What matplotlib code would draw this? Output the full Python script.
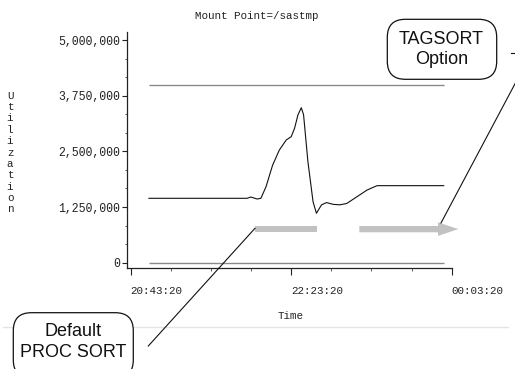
import matplotlib
matplotlib.use("Agg")
import matplotlib.pyplot as plt
import numpy as np
from matplotlib.patches import FancyBboxPatch, Polygon, Rectangle
from matplotlib.lines import Line2D
from matplotlib.ticker import FixedLocator, AutoMinorLocator, StrMethodFormatter

# ---------------- data ----------------
times = ["20:54:40", "21:55:50", "21:58:10", "22:02:08", "22:04:26", "22:07:38",
         "22:11:44", "22:15:56", "22:20:14", "22:23:20", "22:25:26", "22:27:32",
         "22:29:38", "22:31:02", "22:33:44", "22:36:56", "22:39:02", "22:42:14",
         "22:45:20", "22:49:32", "22:53:44", "22:57:56", "23:04:14", "23:10:32",
         "23:16:50", "23:58:20"]
utilization = [1446000, 1446000, 1475000, 1430000, 1446000, 1706000,
               2190000, 2530000, 2755000, 2830000, 3020000, 3320000,
               3480000, 3320000, 2270000, 1370000, 1110000, 1300000,
               1350000, 1310000, 1300000, 1330000, 1480000, 1630000,
               1730000, 1730000]
ref_levels = [4000000, 0]
x_tick_labels = ["20:43:20", "22:23:20", "00:03:20"]
y_ticks = [0, 1250000, 2500000, 3750000, 5000000]
title = "Mount Point=/sastmp"
xlabel = "Time"
ylabel = "Utilization"


def to_sec(s, ref=None):
    h, m, sec = (int(v) for v in s.split(":"))
    v = h * 3600 + m * 60 + sec
    if ref is not None and v < ref:
        v += 86400
    return v


t0 = to_sec(x_tick_labels[0])
x = np.array([to_sec(t, t0) for t in times])
xt = np.array([to_sec(t, t0) for t in x_tick_labels])

W, H = 515, 369
fig = plt.figure(figsize=(W / 100, H / 100), dpi=100)
fig.patch.set_facecolor("white")

L, R, T, B = 127.3, 451.7, 32.3, 267.7
ax = fig.add_axes([L / W, 1 - B / H, (R - L) / W, (B - T) / H])

mono = "Liberation Mono"
sans = "Liberation Sans"

ax.plot(x, utilization, color="#111111", lw=0.8, zorder=3)
for lev in ref_levels:
    ax.hlines(lev, x[0], x[-1], color="#8a8a8a", lw=1.0, zorder=2)

# limits
span = xt[-1] - xt[0]
ax.set_xlim(xt[0] - span * 0.0107, xt[-1])
ax.set_ylim(-112000, 5173000)

ax.set_xticks(xt)
ax.set_xticklabels(x_tick_labels, fontfamily=mono, fontsize=7.8, color="#222222")
for lbl in ax.get_xticklabels():
    lbl.set_horizontalalignment("left")
ax.xaxis.set_minor_locator(FixedLocator(np.arange(xt[0], xt[-1] + 1, 1500)))

ax.set_yticks(y_ticks)
ax.yaxis.set_major_formatter(StrMethodFormatter("{x:,.0f}"))
ax.yaxis.set_minor_locator(AutoMinorLocator(3))
for lbl in ax.get_yticklabels():
    lbl.set_fontfamily(mono)
    lbl.set_fontsize(8.3)
    lbl.set_color("#222222")

ax.tick_params(axis="x", which="major", length=5.2, width=0.8, pad=8, color="#222222")
ax.tick_params(axis="x", which="minor", length=2.4, width=0.6, color="#444444")
ax.tick_params(axis="y", which="major", length=3.3, width=0.8, pad=2, color="#222222")
ax.tick_params(axis="y", which="minor", length=1.7, width=0.6, color="#444444")

for s in ["top", "right"]:
    ax.spines[s].set_visible(False)
for s in ["left", "bottom"]:
    ax.spines[s].set_linewidth(0.9)
    ax.spines[s].set_color("#222222")
ax.set_facecolor("none")

# x label
ax.set_xlabel(xlabel, fontfamily=mono, fontsize=7.8, color="#222222")
ax.xaxis.set_label_coords((291 - L) / (R - L), (B - 316) / (B - T))
ax.xaxis.label.set_verticalalignment("center")

# title and stacked y label
fig.text(256.5 / W, 1 - 16 / H, title, fontfamily=mono, fontsize=7.8,
         ha="center", va="center", color="#222222")
fig.text(10 / W, 1 - 152.5 / H, "\n".join(ylabel), fontfamily=mono, fontsize=7.8,
         ha="center", va="center", linespacing=1.17, color="#222222")


def fx(px):
    return px / W


def fy(py):
    return 1 - py / H


# light separator line
fig.add_artist(Line2D([fx(3), fx(508)], [fy(326.7), fy(326.7)], color="#e4e4e4", lw=1.0, zorder=0))

# gray arrows
gray = "#c2c2c2"
fig.add_artist(Rectangle((fx(255), fy(232.3)), fx(316.7) - fx(255), fy(226) - fy(232.3),
                         facecolor=gray, edgecolor="none", zorder=4))
fig.add_artist(Polygon([(fx(359.3), fy(226)), (fx(438), fy(226)), (fx(438), fy(222.3)),
                        (fx(458.3), fy(229.1)), (fx(438), fy(235.9)), (fx(438), fy(232.3)),
                        (fx(359.3), fy(232.3))], closed=True, facecolor=gray,
                       edgecolor="none", zorder=4))

# leader lines
fig.add_artist(Line2D([fx(441), fx(517)], [fy(223), fy(80)], color="#111111", lw=0.8, zorder=5))
fig.add_artist(Line2D([fx(148.3), fx(255)], [fy(346), fy(228.3)], color="#111111", lw=0.8, zorder=5))
fig.add_artist(Line2D([fx(511), fx(516)], [fy(53), fy(53)], color="#111111", lw=0.8, zorder=5))

# callout boxes
def callout(x0, y0, x1, y1):
    box = FancyBboxPatch((fx(x0), fy(y1)), fx(x1) - fx(x0), fy(y0) - fy(y1),
                         boxstyle="round,pad=0,rounding_size=0.035",
                         facecolor="white", edgecolor="#111111", lw=0.9,
                         mutation_aspect=W / H, zorder=6)
    fig.add_artist(box)


callout(387.3, 19.3, 496.7, 79.3)
fig.text(fx(441.5), fy(49.5), "TAGSORT\nOption", fontfamily=sans, fontsize=13,
         ha="center", va="center", linespacing=1.25, color="#111111", zorder=7)
callout(13.3, 312.7, 133.3, 378)
fig.text(fx(73.5), fy(342), "Default\nPROC SORT", fontfamily=sans, fontsize=13,
         ha="center", va="center", linespacing=1.25, color="#111111", zorder=7)

fig.savefig("out.png", dpi=100, facecolor="white")
